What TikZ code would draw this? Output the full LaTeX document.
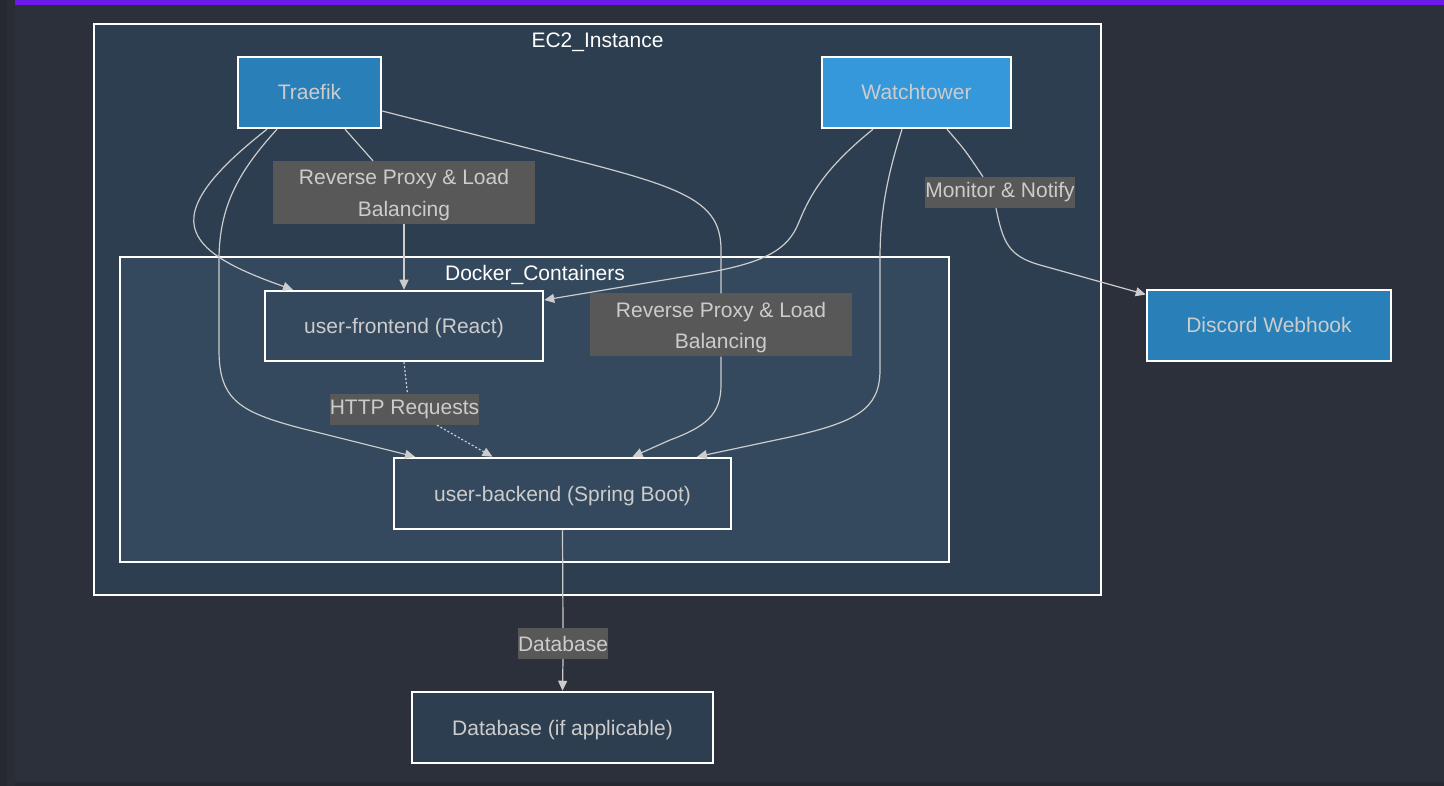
\documentclass[tikz,border=0pt]{standalone}
\usepackage{fontspec}
\setmainfont{Liberation Sans}
\usetikzlibrary{arrows.meta,calc}
\definecolor{bgc}{HTML}{2B303B}
\definecolor{stripa}{HTML}{25292F}
\definecolor{stripb}{HTML}{292D36}
\definecolor{purp}{HTML}{6A1BE6}
\definecolor{ec2c}{HTML}{2D3E50}
\definecolor{dockc}{HTML}{34495E}
\definecolor{traefc}{HTML}{2980B9}
\definecolor{watchc}{HTML}{3498DB}
\definecolor{lblc}{HTML}{585858}
\definecolor{nodetxt}{HTML}{CCCCCC}
\definecolor{linec}{HTML}{CCCCCC}
\begin{document}
\begin{tikzpicture}[x=1pt,y=-1pt,
  cluster/.style={draw=white, line width=2pt, inner sep=0pt},
  ctitle/.style={text=white, font=\fontsize{21pt}{25pt}\selectfont, inner sep=0pt, anchor=base},
  box/.style={draw=white, line width=2.5pt, text=nodetxt, font=\fontsize{21pt}{25pt}\selectfont, text height=15pt, text depth=0pt, inner sep=0pt},
  lbl/.style={fill=lblc, text=nodetxt, inner sep=0pt, font=\fontsize{21pt}{31.5pt}\selectfont, align=center},
  conn/.style={draw=linec, line width=1.2pt},
  arr/.style={conn, -{Triangle[length=10pt,width=9pt]}},
  dotline/.style={dash pattern=on 2pt off 2pt}
]
\useasboundingbox (0,0) rectangle (1444,786);
\fill[bgc] (0,0) rectangle (1444,786);
\fill[stripa] (0,0) rectangle (7,786);
\fill[stripb] (7,0) rectangle (15,786);
\fill[stripa] (15,782) rectangle (1444,786);
\fill[purp] (15,0) rectangle (1444,5.5);

% clusters
\node[cluster, fill=ec2c, minimum width=1007pt, minimum height=571pt] (ec2) at (597.5,309.5) {};
\node[ctitle] (ec2t) at (597.5,47.5) {EC2\_Instance};
\node[cluster, fill=dockc, minimum width=829pt, minimum height=305pt] (dock) at (534.5,409.5) {};
\node[ctitle] (dockt) at (535,280.5) {Docker\_Containers};

% nodes
\node[box, fill=traefc, minimum width=143pt, minimum height=71pt] (traefik) at (309.5,92.5) {Traefik};
\node[box, fill=watchc, minimum width=189pt, minimum height=71pt] (watch) at (916.5,92.5) {Watchtower};
\node[box, fill=dockc, minimum width=278pt, minimum height=70pt] (front) at (404,326) {user-frontend (React)};
\node[box, fill=dockc, minimum width=337pt, minimum height=71pt] (back) at (562.5,493.5) {user-backend (Spring Boot)};
\node[box, fill=ec2c, minimum width=301pt, minimum height=71pt] (db) at (562.5,727.5) {Database (if applicable)};
\node[box, fill=traefc, minimum width=244pt, minimum height=71pt] (discord) at (1269,325.5) {Discord Webhook};

% edge labels
\node[lbl, minimum width=262pt, minimum height=63pt] (l1) at (404,192.5) {\rule{0pt}{20pt}Reverse Proxy \& Load\\Balancing};
\node[lbl, minimum width=262pt, minimum height=63pt] (l2) at (721,325) {\rule{0pt}{20pt}Reverse Proxy \& Load\\Balancing};
\node[lbl, minimum height=31pt] (l3) at (1000,192.5) {Monitor \& Notify};
\node[lbl, minimum height=31pt] (l4) at (404.5,409.5) {HTTP Requests};
\node[lbl, minimum height=31pt] (l5) at (563,643.5) {Database};

% connectors
% Traefik -> frontend (left curve)
\draw[arr] ($(traefik.south)+(-42.5,0)$) .. controls (215,170) and (185,205) .. (196,232)
  .. controls (205,255) and (240,271) .. ($(front.north)+(-111,0)$);
% Traefik -> backend
\draw[arr] ($(traefik.south)+(-32.5,0)$) .. controls (240,170) and (219,205) .. (219,260) -- (219,350)
  .. controls (219,400) and (240,412) .. (300,428) -- ($(back.north)+(-147.5,0)$);
% Traefik -> label 1 -> frontend
\draw[conn] ($(traefik.south)+(35.5,0)$) -- ($(l1.north)+(-31,0)$);
\draw[arr] (l1.south) .. controls (404,250) .. (front.north);
% Traefik -> label 2 -> backend
\draw[conn] ($(traefik.east)+(0,18.5)$) -- (590,164) .. controls (690,190) and (721,205) .. (721,250) -- (l2.north);
\draw[arr] (l2.south) -- (721,385) .. controls (721,415) and (705,427) .. (670,440) -- ($(back.north)+(70,0)$);
% Watchtower -> frontend
\draw[arr] ($(watch.south)+(-43.5,0)$) .. controls (825,168) and (810,195) .. (799,222)
  .. controls (788,250) and (765,263) .. (700,274) -- ($(front.east)+(0,-26)$);
% Watchtower -> backend
\draw[arr] ($(watch.south)+(-14.5,0)$) .. controls (886,180) and (880,215) .. (880,260) -- (880,370)
  .. controls (880,410) and (855,422) .. (790,437) -- ($(back.north)+(134.5,0)$);
% Watchtower -> label 3 -> Discord
\draw[conn] ($(watch.south)+(30.5,0)$) .. controls (965,150) .. ($(l3.north)+(-17,0)$);
\draw[arr] ($(l3.south)+(-4,0)$) .. controls (1003,242) and (1008,256) .. (1040,265) -- ($(discord.west)+(0,-31)$);
% frontend -> label 4 -> backend (dotted)
\draw[conn, dotline] (front.south) -- ($(l4.north)+(3,0)$);
\draw[arr, dotline] ($(l4.south)+(32.5,0)$) -- ($(back.north)+(-70,0)$);
% backend -> label 5 -> database
\draw[conn] (back.south) -- (l5.north);
\draw[arr] (l5.south) -- (db.north);
\end{tikzpicture}
\end{document}
